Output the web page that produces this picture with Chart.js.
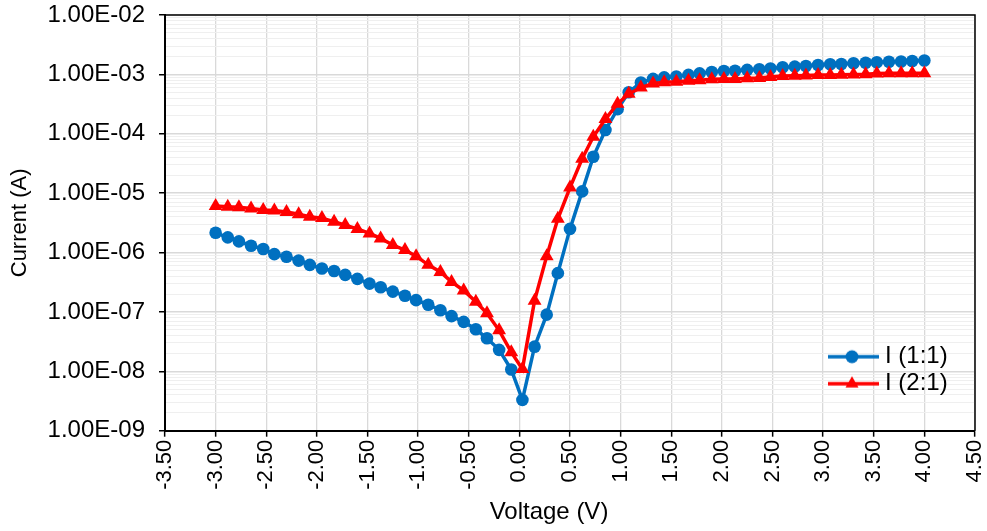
<!DOCTYPE html>
<html>
<head>
<meta charset="utf-8">
<script src="https://cdn.jsdelivr.net/npm/chart.js@4/dist/chart.umd.min.js"></script>
<style>
  html, body { margin: 0; padding: 0; background: #fff; }
  #wrap { width: 987px; height: 531px; }
</style>
</head>
<body>
<div id="wrap"><canvas id="c" width="987" height="531"></canvas></div>
<script>
// ---- data ----
const voltage = [-3.00, -2.88, -2.77, -2.65, -2.53, -2.42, -2.30, -2.18, -2.07, -1.95,
  -1.83, -1.72, -1.60, -1.48, -1.37, -1.25, -1.13, -1.02, -0.90, -0.78,
  -0.67, -0.55, -0.43, -0.32, -0.20, -0.08, 0.03, 0.15, 0.27, 0.38,
  0.50, 0.62, 0.73, 0.85, 0.97, 1.08, 1.20, 1.32, 1.43, 1.55,
  1.67, 1.78, 1.90, 2.02, 2.13, 2.25, 2.37, 2.48, 2.60, 2.72,
  2.83, 2.95, 3.07, 3.18, 3.30, 3.42, 3.53, 3.65, 3.77, 3.88, 4.00];

const current11 = [2.15e-6, 1.80e-6, 1.54e-6, 1.30e-6, 1.15e-6, 9.4e-7, 8.5e-7, 7.3e-7, 6.2e-7, 5.4e-7,
  4.9e-7, 4.2e-7, 3.6e-7, 3.0e-7, 2.6e-7, 2.2e-7, 1.87e-7, 1.58e-7, 1.32e-7, 1.07e-7,
  8.5e-8, 6.8e-8, 5.1e-8, 3.6e-8, 2.3e-8, 1.07e-8, 3.3e-9, 2.6e-8, 9.0e-8, 4.5e-7,
  2.5e-6, 1.07e-5, 4.1e-5, 1.16e-4, 2.6e-4, 5.0e-4, 7.3e-4, 8.4e-4, 8.9e-4, 9.2e-4,
  9.8e-4, 1.04e-3, 1.10e-3, 1.14e-3, 1.15e-3, 1.19e-3, 1.22e-3, 1.26e-3, 1.32e-3, 1.35e-3,
  1.38e-3, 1.44e-3, 1.48e-3, 1.50e-3, 1.54e-3, 1.57e-3, 1.60e-3, 1.63e-3, 1.65e-3, 1.68e-3, 1.71e-3];

const current21 = [6.1e-6, 5.9e-6, 5.8e-6, 5.5e-6, 5.2e-6, 5.1e-6, 4.8e-6, 4.4e-6, 4.0e-6, 3.8e-6,
  3.3e-6, 2.9e-6, 2.5e-6, 2.1e-6, 1.73e-6, 1.34e-6, 1.10e-6, 8.7e-7, 6.2e-7, 4.7e-7,
  3.2e-7, 2.3e-7, 1.48e-7, 9.5e-8, 4.9e-8, 2.1e-8, 1.09e-8, 1.55e-7, 8.7e-7, 3.7e-6,
  1.24e-5, 3.8e-5, 8.9e-5, 1.77e-4, 3.2e-4, 4.7e-4, 6.0e-4, 7.0e-4, 7.4e-4, 7.5e-4,
  7.8e-4, 8.0e-4, 8.3e-4, 8.4e-4, 8.4e-4, 8.6e-4, 8.7e-4, 9.0e-4, 9.4e-4, 9.5e-4,
  9.6e-4, 9.75e-4, 9.8e-4, 9.9e-4, 1.00e-3, 1.01e-3, 1.03e-3, 1.04e-3, 1.04e-3, 1.04e-3, 1.05e-3];

const seriesLabels = ['I (1:1)', 'I (2:1)'];
const xTickValues = [-3.5, -3.0, -2.5, -2.0, -1.5, -1.0, -0.5, 0.0, 0.5, 1.0, 1.5, 2.0, 2.5, 3.0, 3.5, 4.0, 4.5];
const yDecades = [-9, -8, -7, -6, -5, -4, -3, -2];
const xTitle = 'Voltage (V)';
const yTitle = 'Current (A)';

// ---- styles ----
const BLUE = '#0070C0';
const RED = '#FF0000';
const FONT = "'Liberation Sans', Arial, sans-serif";
Chart.defaults.font.family = FONT;
Chart.defaults.font.size = 24;
Chart.defaults.color = '#000';

function isMajor(v) {
  const l = Math.log10(v);
  return Math.abs(l - Math.round(l)) < 1e-9;
}
function fmtSci(v) {
  const e = Math.round(Math.log10(v));
  const m = v / Math.pow(10, e);
  return m.toFixed(2) + 'E' + (e < 0 ? '-' : '+') + String(Math.abs(e)).padStart(2, '0');
}

function makeIcon(color, style) {
  const c = document.createElement('canvas');
  c.width = 54; c.height = 20;
  const g = c.getContext('2d');
  g.strokeStyle = color; g.fillStyle = color; g.lineWidth = 3.5;
  g.beginPath(); g.moveTo(0, 10); g.lineTo(54, 10); g.stroke();
  g.beginPath();
  if (style === 'circle') {
    g.arc(27, 10, 6.5, 0, Math.PI * 2);
  } else {
    const r = 7.5;
    g.moveTo(27, 10 - r);
    g.lineTo(27 + r * Math.sqrt(3) / 2, 10 + r / 2);
    g.lineTo(27 - r * Math.sqrt(3) / 2, 10 + r / 2);
    g.closePath();
  }
  g.fill();
  return c;
}
const icons = [makeIcon(BLUE, 'circle'), makeIcon(RED, 'triangle')];

const frame = {
  id: 'frame',
  beforeDatasetsDraw(chart) {
    const {ctx, chartArea: a} = chart;
    ctx.save();
    ctx.strokeStyle = '#000';
    ctx.lineWidth = 1.5;
    ctx.beginPath();
    ctx.moveTo(a.left, a.top); ctx.lineTo(a.right, a.top); ctx.lineTo(a.right, a.bottom);
    ctx.stroke();
    ctx.restore();
  }
};
const placeLegend = {
  id: 'placeLegend',
  afterLayout(chart) {
    const L = chart.legend;
    if (!L) return;
    L.left = 828; L.top = 341.7; L.right = 828 + 150; L.bottom = 341.7 + 80;
  }
};
const shiftTitle = {
  id: 'shiftTitle',
  beforeDraw(chart) {
    const s = chart.scales.x;
    if (s && !s._shifted) {
      const orig = s.drawTitle.bind(s);
      s.drawTitle = function () {
        this.ctx.save();
        this.ctx.translate(-21, 0);
        orig();
        this.ctx.restore();
      };
      s._shifted = true;
    }
  }
};

const ds = (arr) => voltage.map((v, i) => ({x: v, y: arr[i]}));

new Chart(document.getElementById('c'), {
  type: 'scatter',
  data: {
    datasets: [
      {
        label: seriesLabels[0], data: ds(current11), showLine: true,
        borderColor: BLUE, backgroundColor: BLUE, borderWidth: 3.5,
        pointStyle: 'circle', pointRadius: 6.3, pointBorderWidth: 0, pointHoverRadius: 6.3,
        order: 2
      },
      {
        label: seriesLabels[1], data: ds(current21), showLine: true,
        borderColor: RED, backgroundColor: RED, borderWidth: 3.5,
        pointStyle: 'triangle', pointRadius: 8, pointBorderWidth: 0, pointHoverRadius: 8,
        order: 1
      }
    ]
  },
  options: {
    responsive: false,
    animation: false,
    devicePixelRatio: 1,
    layout: { padding: { left: 3, right: 12, top: 15, bottom: 0 } },
    plugins: {
      tooltip: { enabled: false },
      legend: {
        position: 'chartArea',
        align: 'start',
        labels: {
          usePointStyle: true,
          pointStyleWidth: 42,
          padding: 3,
          font: { size: 24, family: FONT },
          color: '#000',
          generateLabels: (chart) => chart.data.datasets.map((d, i) => ({
            text: d.label, pointStyle: icons[i], datasetIndex: i,
            fillStyle: d.borderColor, strokeStyle: d.borderColor, lineWidth: 0,
            hidden: false, fontColor: '#000'
          }))
        }
      }
    },
    scales: {
      x: {
        type: 'linear', position: 'bottom',
        min: -3.5, max: 4.5,
        afterBuildTicks: (scale) => { scale.ticks = xTickValues.map(v => ({value: v})); },
        afterFit: (scale) => {
          scale.height = 100.3;
          scale.paddingLeft = 0; scale.paddingRight = 0;
        },
        ticks: {
          autoSkip: false, minRotation: 90, maxRotation: 90, padding: 3,
          font: { size: 22 }, color: '#000',
          callback: (v) => Number(v).toFixed(2)
        },
        grid: { color: '#d9d9d9', lineWidth: 1.3, tickColor: '#000', tickLength: 6, tickWidth: 1.5 },
        border: { color: '#000', width: 2 },
        title: { display: true, text: xTitle, font: { size: 24 }, color: '#000', padding: { top: 4, bottom: 4 } }
      },
      y: {
        type: 'logarithmic', position: 'left',
        min: 1e-9, max: 1e-2,
        afterBuildTicks: (scale) => {
          const t = [];
          yDecades.forEach(e => {
            const top = e === yDecades[yDecades.length - 1] ? 1 : 9;
            for (let m = 1; m <= top; m++) t.push({ value: m * Math.pow(10, e) });
          });
          scale.ticks = t;
        },
        afterFit: (scale) => {
          scale.width = 162;
          scale.paddingTop = 0; scale.paddingBottom = 0;
        },
        ticks: {
          autoSkip: false, padding: 14, font: { size: 24 }, color: '#000',
          callback: (v) => isMajor(v) ? fmtSci(v) : ''
        },
        grid: {
          color: (c) => (c.tick && isMajor(c.tick.value)) ? '#d9d9d9' : '#efefef',
          lineWidth: (c) => (c.tick && isMajor(c.tick.value)) ? 1.5 : 1,
          tickColor: (c) => (c.tick && isMajor(c.tick.value)) ? '#000' : 'rgba(0,0,0,0)',
          tickLength: 6, tickWidth: 1.5
        },
        border: { color: '#000', width: 2 },
        title: { display: true, text: yTitle, font: { size: 22 }, color: '#000', padding: { top: 4, bottom: 4 } }
      }
    }
  },
  plugins: [frame, placeLegend, shiftTitle]
});
</script>
</body>
</html>
